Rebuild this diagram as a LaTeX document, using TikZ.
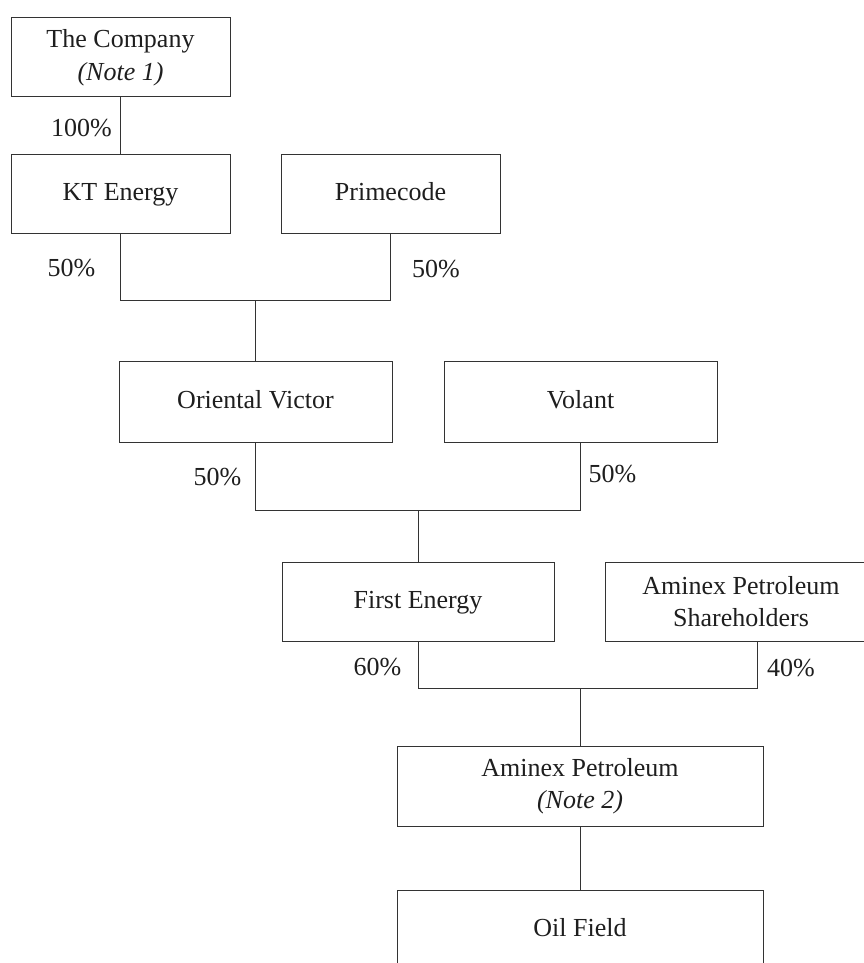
\documentclass[tikz,border=0pt]{standalone}
\usepackage{fontspec}
\setmainfont{Liberation Serif}
\definecolor{linec}{HTML}{333333}
\definecolor{textc}{HTML}{1E1E1E}
\newcommand\boxfont{\fontsize{26}{32.5}\selectfont}
\begin{document}
\begin{tikzpicture}[x=1pt,y=-1pt,
  box/.style={draw=linec, line width=1pt, rectangle, inner sep=0pt,
    minimum height=79pt, align=center, font=\boxfont, text=textc},
  oneline/.style={text height=19pt, text depth=5.8pt},
  pct/.style={anchor=base, font=\boxfont, text=textc, inner sep=0pt},
  conn/.style={draw=linec, line width=1pt}]
\useasboundingbox (0,0) rectangle (864,963);
\clip (0,0) rectangle (864,963);
% boxes
\node[box, minimum width=219pt] (comp) at (120.5,57.5) {The Company\\\textit{(Note 1)}};
\node[box, oneline, minimum width=219pt] (kt) at (120.5,193.5) {KT Energy};
\node[box, oneline, minimum width=219pt] (prime) at (390.5,193.5) {Primecode};
\node[box, oneline, minimum width=273pt, minimum height=81pt] (ov) at (255.5,401.5) {Oriental Victor};
\node[box, oneline, minimum width=273pt, minimum height=81pt] (vol) at (580.5,401.5) {Volant};
\node[box, oneline, minimum width=272pt] (fe) at (418,601.5) {First Energy};
\node[box, minimum width=272pt] (sh) at (741,601.5) {Aminex Petroleum\\Shareholders};
\node[box, minimum width=366pt, minimum height=80pt] (am) at (580,786) {Aminex Petroleum\\\textit{(Note 2)}};
\node[box, oneline, minimum width=366pt, minimum height=80pt] (oil) at (580,930) {Oil Field};
% junctions
\coordinate (j1) at (255.5,300.5);
\coordinate (j2) at (418,510.5);
\coordinate (j3) at (580,688.5);
% connectors
\draw[conn] (comp.south) -- (kt.north);
\draw[conn] (kt.south) |- (j1) -| (prime.south);
\draw[conn] (j1) -- (ov.north);
\draw[conn] (ov.south) |- (j2) -| (vol.south);
\draw[conn] (j2) -- (fe.north);
\draw[conn] (fe.south) |- (j3) -| ([xshift=16pt]sh.south);
\draw[conn] (j3) -- (am.north);
\draw[conn] (am.south) -- (oil.north);
% percentages
\node[pct] (p100) at (81.5,136) {100\%};
\node[pct] (pkt) at (71.5,276) {50\%};
\node[pct] (ppr) at (436,277) {50\%};
\node[pct] (pov) at (217.5,485) {50\%};
\node[pct] (pvo) at (612.5,482) {50\%};
\node[pct] (pfe) at (377.5,675) {60\%};
\node[pct] (psh) at (791,676) {40\%};
\end{tikzpicture}
\end{document}
